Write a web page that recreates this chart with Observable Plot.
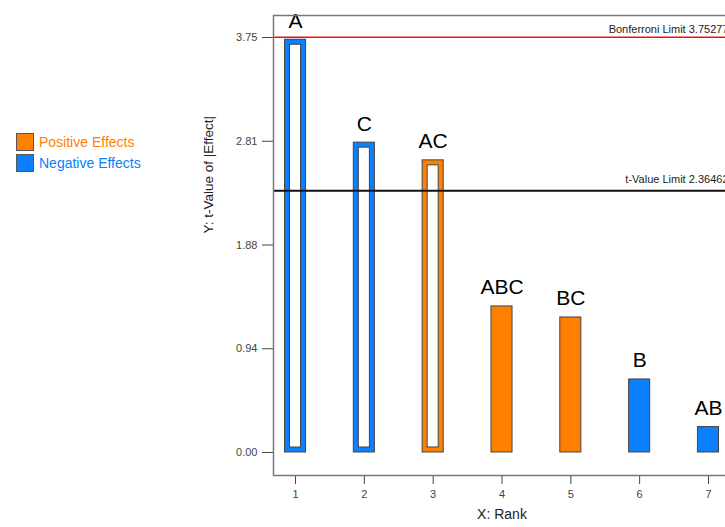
<!DOCTYPE html>
<html>
<head>
<meta charset="utf-8">
<script src="https://cdn.jsdelivr.net/npm/d3@7"></script>
<script src="https://cdn.jsdelivr.net/npm/@observablehq/plot@0.6"></script>
<style>
  html, body { margin: 0; padding: 0; overflow: hidden; background: #fff; }
  #wrap { position: relative; width: 725px; height: 527px; overflow: hidden; font-family: "Liberation Sans", Arial, sans-serif; }
  #chart { position: absolute; left: 0; top: 0; width: 740px; }
  #chart svg { max-width: none !important; width: 740px !important; height: 527px !important; }
  #legend { position: absolute; left: 16px; top: 133px; font-size: 14px; }
  .row { display: flex; align-items: center; height: 18px; margin-bottom: 3px; }
  .sw { width: 16px; height: 16px; border: 1px solid #555; margin-right: 5px; box-sizing: content-box; }
</style>
</head>
<body>
<div id="wrap">
  <div id="chart"></div>
  <div id="legend"></div>
</div>
<script>
// ---- data ----
const ranks = [1, 2, 3, 4, 5, 6, 7];
const terms = ["A", "C", "AC", "ABC", "BC", "B", "AB"];
const tValues = [3.73, 2.80, 2.64, 1.32, 1.22, 0.66, 0.23];
const effectSigns = ["Negative", "Negative", "Positive", "Positive", "Positive", "Negative", "Negative"];
const yTickValues = [0, 0.9375, 1.875, 2.8125, 3.75];
const yTickLabels = ["0.00", "0.94", "1.88", "2.81", "3.75"];
const xTickLabels = ["1", "2", "3", "4", "5", "6", "7"];
const bonferroniLimit = 3.75277;
const tValueLimit = 2.36462;
const legendLabels = ["Positive Effects", "Negative Effects"];
const legendKeys = ["Positive", "Negative"];

// ---- styling ----
const colorOf = {Positive: "#FF8000", Negative: "#0A80FF"};
const halfWidth = 0.153;

const data = ranks.map((r, i) => ({rank: r, term: terms[i], value: tValues[i], sign: effectSigns[i]}));
const hollow = data.filter(d => d.value > tValueLimit);

const chart = Plot.plot({
  width: 740,
  height: 527,
  marginLeft: 273,
  marginRight: 10,
  marginTop: 15,
  marginBottom: 52,
  style: {fontFamily: "'Liberation Sans', Arial, sans-serif", fontSize: "11px", color: "#444", background: "transparent", maxWidth: "none"},
  x: {domain: [0.68, 7.32], ticks: ranks, tickFormat: (d, i) => xTickLabels[i], label: null, tickSize: 9, tickPadding: 6},
  y: {domain: [-0.208, 3.949], ticks: yTickValues, tickFormat: (d, i) => yTickLabels[i], label: null, tickSize: 11, tickPadding: 5},
  marks: [
    Plot.rect(data, {
      x1: d => d.rank - halfWidth, x2: d => d.rank + halfWidth,
      y1: 0, y2: "value",
      fill: d => colorOf[d.sign], stroke: "#444", strokeWidth: 1
    }),
    Plot.rect(hollow, {
      x1: d => d.rank - halfWidth, x2: d => d.rank + halfWidth,
      y1: 0, y2: "value",
      fill: "white", stroke: "#444", strokeWidth: 1, inset: 5
    }),
    Plot.ruleY([bonferroniLimit], {stroke: "#EE1111", strokeWidth: 1.5}),
    Plot.ruleY([tValueLimit], {stroke: "#111", strokeWidth: 2}),
    Plot.text(data, {
      x: "rank", y: "value", text: "term",
      lineAnchor: "bottom", dy: -12, fontSize: 21, fill: "#000"
    }),
    Plot.text([bonferroniLimit], {
      x: 7.32, y: d => d, text: d => "Bonferroni Limit " + d,
      textAnchor: "end", lineAnchor: "bottom", dx: -2, dy: -4, fontSize: 11, fill: "#222"
    }),
    Plot.text([tValueLimit], {
      x: 7.32, y: d => d, text: d => "t-Value Limit " + d,
      textAnchor: "end", lineAnchor: "bottom", dx: -2, dy: -8, fontSize: 11, fill: "#222"
    }),
    Plot.text(["Y: t-Value of |Effect|"], {
      frameAnchor: "left", text: d => d, rotate: -90,
      dx: -65, dy: -12, fontSize: 13.5, fill: "#222"
    }),
    Plot.text(["X: Rank"], {
      frameAnchor: "bottom", text: d => d,
      dy: 43, fontSize: 14, fill: "#222"
    }),
    Plot.frame({stroke: "#777", strokeWidth: 1.5})
  ]
});
document.getElementById("chart").appendChild(chart);

// ---- legend ----
const legend = document.getElementById("legend");
legendKeys.forEach((k, i) => {
  const row = document.createElement("div");
  row.className = "row";
  const sw = document.createElement("div");
  sw.className = "sw";
  sw.style.background = colorOf[k];
  const lab = document.createElement("span");
  lab.textContent = legendLabels[i];
  lab.style.color = colorOf[k];
  row.appendChild(sw);
  row.appendChild(lab);
  legend.appendChild(row);
});
</script>
</body>
</html>
